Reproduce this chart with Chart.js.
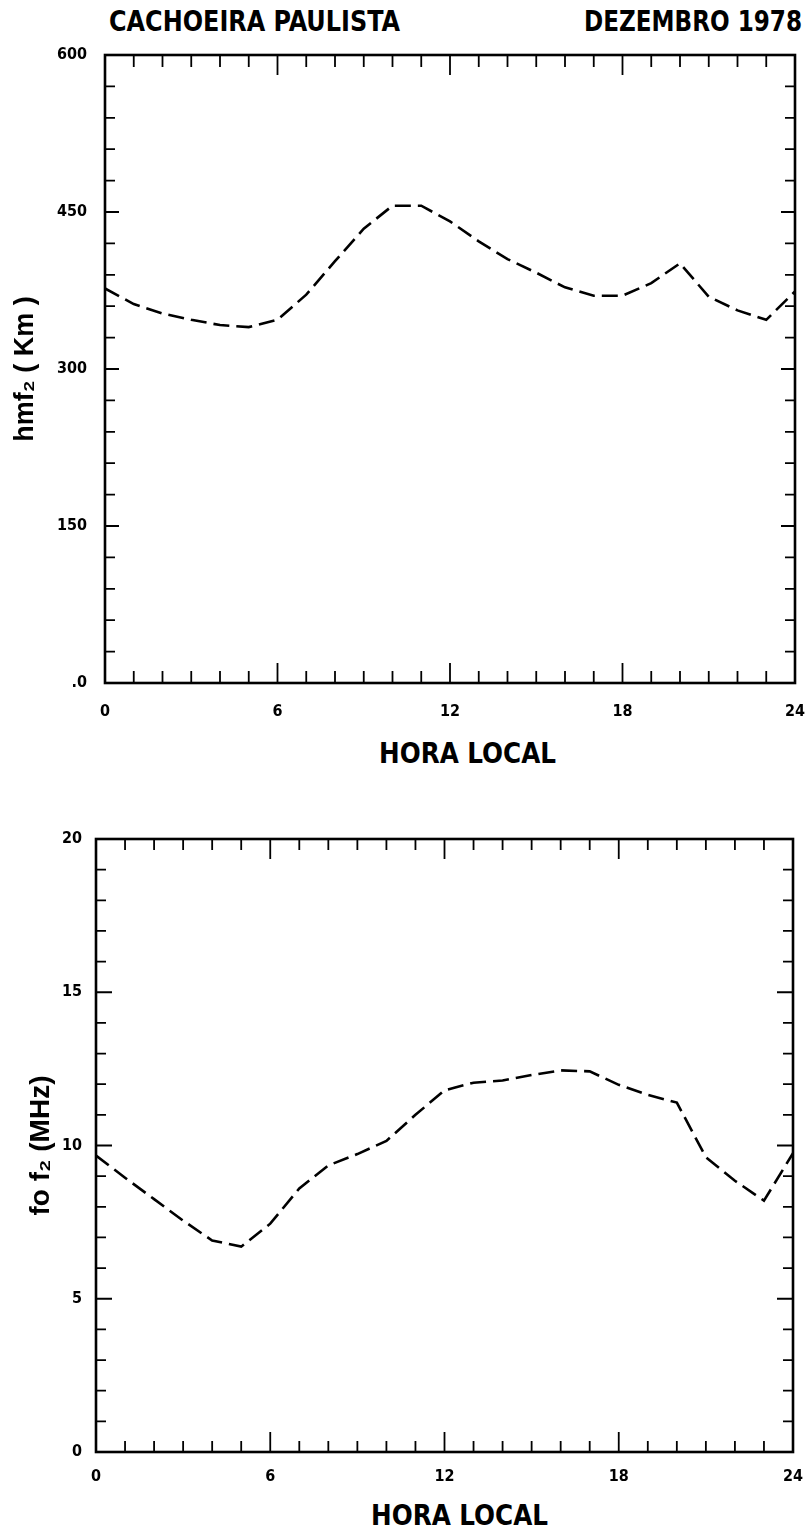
<!DOCTYPE html>
<html><head><meta charset="utf-8">
<script src="https://cdn.jsdelivr.net/npm/chart.js@4.4.1/dist/chart.umd.min.js"></script>
<style>
html,body{margin:0;padding:0;background:#fff;width:810px;height:1532px;overflow:hidden;position:relative;}
canvas{position:absolute;left:0;}
.txt{position:absolute;font-family:"Liberation Sans Narrow","DejaVu Sans Condensed","Liberation Sans",sans-serif;font-weight:bold;color:#000;white-space:nowrap;transform-origin:0 50%;line-height:1;}
</style></head><body>
<div id="hdrL" class="txt" style="left:109px;top:7px;font-size:29px;">CACHOEIRA PAULISTA</div>
<div id="hdrR" class="txt" style="left:584px;top:7px;font-size:29px;">DEZEMBRO 1978</div>
<div id="xt1" class="txt" style="left:379px;top:740px;font-size:28px;">HORA LOCAL</div>
<div id="xt2" class="txt" style="left:371px;top:1501px;font-size:29px;">HORA LOCAL</div>
<canvas id="c1" width="810" height="740" style="top:0;width:810px;height:740px;"></canvas>
<canvas id="c2" width="810" height="740" style="top:760px;width:810px;height:740px;"></canvas>
<script>
// ---- data ----
const hours = [0,1,2,3,4,5,6,7,8,9,10,11,12,13,14,15,16,17,18,19,20,21,22,23,24];
const hmf2 = [377,362,353,347,342,340,347,371,403,434,456,456,441,422,405,392,378,370,370,382,401,369,356,347,374];
const fof2 = [9.67,8.95,8.25,7.55,6.9,6.7,7.45,8.6,9.35,9.72,10.15,11.0,11.8,12.05,12.12,12.3,12.45,12.42,11.98,11.65,11.4,9.62,8.85,8.2,9.75];
const xTickLabels = ['0','6','12','18','24'];
const yTickLabelsTop = ['.0','150','300','450','600'];
const yTickLabelsBottom = ['0','5','10','15','20'];
const titleTop = 'CACHOEIRA PAULISTA';
const titleDate = 'DEZEMBRO 1978';
const xTitle = 'HORA LOCAL';
const yTitleTop = 'hmf\u2082 ( Km )';
const yTitleBottom = 'fo f\u2082 (MHz)';

document.getElementById('hdrL').textContent = titleTop;
document.getElementById('hdrR').textContent = titleDate;
document.getElementById('xt1').textContent = xTitle;
document.getElementById('xt2').textContent = xTitle;

// fit HTML text widths
function fit(id, w){
  const el = document.getElementById(id);
  const r = el.getBoundingClientRect().width;
  el.style.transform = 'scaleX(' + (w / r) + ')';
}
fit('hdrL', 291); fit('hdrR', 218); fit('xt1', 177); fit('xt2', 177);

const NARROW = '"Liberation Sans Narrow","DejaVu Sans Condensed","Liberation Sans",sans-serif';

const frameTicks = {
  id: 'frameTicks',
  afterDraw(chart, args, o) {
    const {ctx, chartArea: a, scales: {x, y}} = chart;
    ctx.save();
    ctx.strokeStyle = '#000';
    ctx.lineWidth = 2.6;
    ctx.strokeRect(a.left, a.top, a.right - a.left, a.bottom - a.top);
    ctx.lineWidth = 1.8;
    ctx.beginPath();
    for (let h = x.min; h <= x.max + 1e-9; h += o.xStep) {
      const px = x.getPixelForValue(h);
      const major = Math.abs(h % o.xMajor) < 1e-9 && h > x.min && h < x.max;
      const len = major ? o.xMajorLen : o.xMinorLen;
      ctx.moveTo(px, a.bottom); ctx.lineTo(px, a.bottom - len);
      ctx.moveTo(px, a.top); ctx.lineTo(px, a.top + len);
    }
    for (let v = y.min; v <= y.max + 1e-9; v += o.yStep) {
      const py = y.getPixelForValue(v);
      const major = Math.abs(v % o.yMajor) < 1e-9 && v > y.min && v < y.max;
      const len = major ? o.yMajorLen : o.yMinorLen;
      ctx.moveTo(a.left, py); ctx.lineTo(a.left + len, py);
      ctx.moveTo(a.right, py); ctx.lineTo(a.right - len, py);
    }
    ctx.stroke();
    ctx.restore();
  }
};

function makeChart(id, values, yMax, yStepLbl, yLabels, yTitle, lay, tickOpts) {
  return new Chart(document.getElementById(id), {
    type: 'line',
    data: {
      datasets: [{
        data: hours.map((h, i) => ({x: h, y: values[i]})),
        borderColor: '#000',
        borderWidth: 2.6,
        borderDash: [16, 7],
        pointRadius: 0,
        tension: 0,
        fill: false
      }]
    },
    plugins: [frameTicks],
    options: {
      responsive: false,
      animation: false,
      devicePixelRatio: 1,
      layout: {padding: {top: lay.top, right: lay.right, left: 0, bottom: 0}},
      plugins: {legend: {display: false}, tooltip: {enabled: false}, frameTicks: tickOpts},
      scales: {
        x: {
          type: 'linear', min: 0, max: 24,
          grid: {display: false, drawTicks: false},
          border: {display: false},
          afterFit(s) { s.height = lay.xh; s.paddingLeft = 0; s.paddingRight = 0; },
          ticks: {
            stepSize: 6, padding: lay.xpad, color: '#000', maxRotation: 0,
            font: {family: NARROW, size: 16, weight: 'bold'},
            callback: (v, i) => xTickLabels[i]
          }
        },
        y: {
          type: 'linear', min: 0, max: yMax,
          grid: {display: false, drawTicks: false},
          border: {display: false},
          afterFit(s) { s.width = lay.yw; s.paddingTop = 0; s.paddingBottom = 0; },
          ticks: {
            stepSize: yStepLbl, padding: lay.ypad, color: '#000',
            font: {family: NARROW, size: 16, weight: 'bold'},
            callback: (v, i) => yLabels[i]
          },
          title: {
            display: true, text: yTitle, color: '#000',
            padding: {top: lay.tpad, bottom: 0},
            font: {family: '"Liberation Sans","DejaVu Sans",sans-serif', size: lay.tsize, weight: 'bold'}
          }
        }
      }
    }
  });
}

makeChart('c1', hmf2, 600, 150, yTickLabelsTop, yTitleTop,
  {top: 55, right: 15, xh: 57, yw: 105, xpad: 19, ypad: 18, tpad: 9, tsize: 27},
  {xStep: 1, xMajor: 6, xMajorLen: 20, xMinorLen: 12, yStep: 30, yMajor: 150, yMajorLen: 14, yMinorLen: 10});

makeChart('c2', fof2, 20, 5, yTickLabelsBottom, yTitleBottom,
  {top: 79, right: 17, xh: 48, yw: 96, xpad: 15, ypad: 14, tpad: 24, tsize: 28},
  {xStep: 1, xMajor: 6, xMajorLen: 20, xMinorLen: 11, yStep: 1, yMajor: 5, yMajorLen: 16, yMinorLen: 10});
</script>
</body></html>
